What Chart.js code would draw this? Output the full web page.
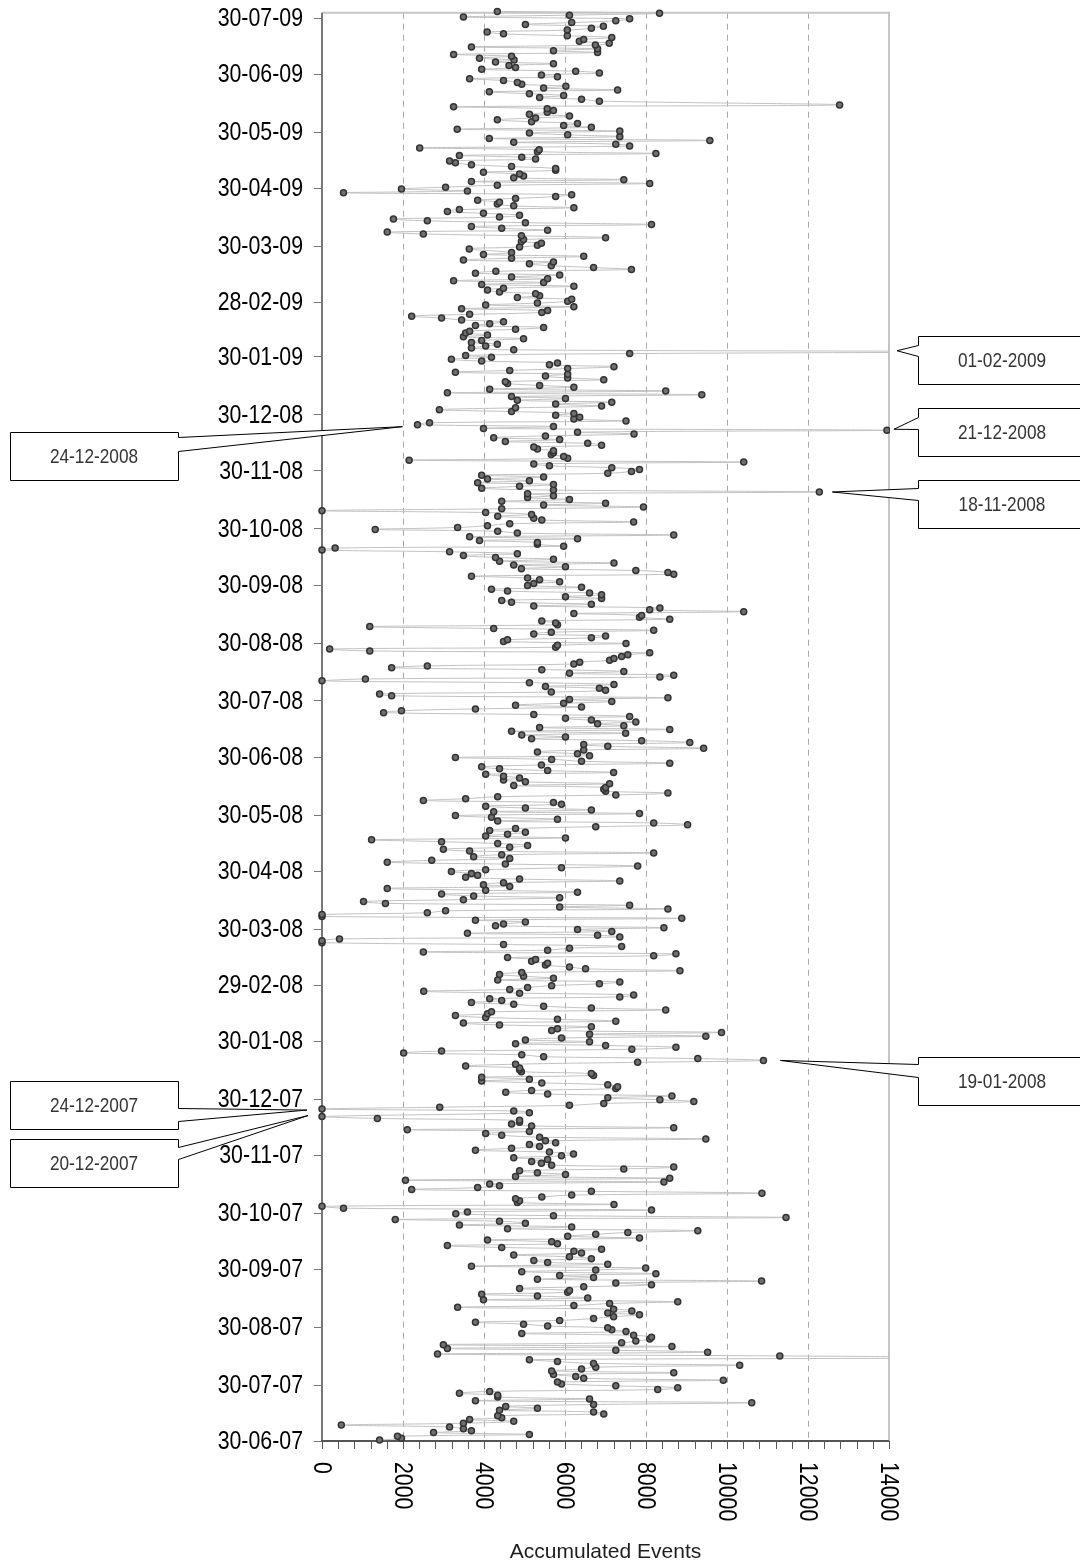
<!DOCTYPE html>
<html>
<head>
<meta charset="utf-8">
<title>Accumulated Events</title>
<script src="https://cdn.jsdelivr.net/npm/chart.js@4.4.1/dist/chart.umd.min.js"></script>
<style>
  html, body { margin: 0; padding: 0; background: #ffffff; }
  #wrap { width: 1080px; height: 1566px; position: relative; }
</style>
</head>
<body>
<div id="wrap"><canvas id="chart" width="1080" height="1566"></canvas></div>
<script>
// ---- data -------------------------------------------------------------
// first day of the series; every entry below is one consecutive day
const startDate = '2007-06-30';

// monthly labels on the date axis
const dateTickLabels = [
  '30-06-07', '30-07-07', '30-08-07', '30-09-07', '30-10-07', '30-11-07',
  '30-12-07', '30-01-08', '29-02-08', '30-03-08', '30-04-08', '30-05-08',
  '30-06-08', '30-07-08', '30-08-08', '30-09-08', '30-10-08', '30-11-08',
  '30-12-08', '30-01-09', '28-02-09', '30-03-09', '30-04-09', '30-05-09',
  '30-06-09', '30-07-09'
];

// labels on the value axis, and the spacing of the small tick marks
const valueTickLabels = [0, 2000, 4000, 6000, 8000, 10000, 12000, 14000];
const minorTickStep = 400;

// accumulated events per day, oldest first (null = no reading that day)
const events = [
  // Jul 2007 - Oct 2007
  1422, 1962, 1863, 5121, 2754, 3690, 3492, 3150, 477, 3492,
  4734, 3645, 4437, 4338, 6957, 6705, 4383, 5319, 4536, 6705,
  10611, 3789, 6606, 4338, 4338, 3393, 4140, 8289, 8784, 7254,
  5913, 5814, 9909, 6462, 6264, 5715, 8685, 5670, 6408, 6759,
  10314, 6705, 5814, 5121, 16500, 11304, 2853, 9522, 7254, 3096,
  8640, 2997, 7398, 7749, 8091, 8136, 7695, 4932, 7506, 7155,
  7056, 5571, 4977, 3789, 5868, 6705, 7200, 7839, 7056, 7650,
  7200, 3348, 6219, 7101, 8784, 3987, 6561, 5319, 3942, 6066,
  6111, 4878, 6462, 8136, 7254, 10854, 5319, 6705, 5868, 8244,
  4932, 6759, 7992, 3690, 7056, 5571, 5229, 6651, 6111, 4734,
  6408, 6219, 6903, 4437, 3096, 5814, 5670, 4086, 7839, 6066,
  6759, 7551, 9279, 4581, 6165, 3393, 5022, 4383, 1809, 11457,
  5715, 3303, 3591,
  // Oct 2007 - Feb 2008
  8136, 531, 0, 7209, 4824, 4878, 4779, 5427, 6165, 10863,
  6651, 2214, 3843, 4383, 4140, 8442, 2061, 8586, 4779, 6012,
  5319, 4878, 7452, 8685, 5670, 5418, 5175, 5571, 4734, 5913,
  6210, 5616, 3789, 4680, 5373, 5121, 5769, 5517, 9477, 5373,
  4437, 4041, 5121, 2106, 8685, 5175, 4680, 4878, 4878, 1368,
  0, null, 5121, 4734, 0, 2907, 6111, 6957, 9180, 8343,
  7056, 8640, 5571, 4536, 5175, 7254, 7299, 7056, 5427, 3942,
  5121, 3942, 6705, 6651, 4923, 4878, 4878, 3546, 4779, 7794,
  10900, 9279, 5472, 4932, 2016, 2952, 7650, 8739, 7002, 4779,
  6606, 5022, 5913, 9477, 6606, 9864, 5670, 5814, 6651, 4383,
  3492, 7254, 5814, 4041, 3294, 4086, 4185, 8487, 6651, 5472,
  4734, 3690, 4437, 4140, 7353, 7695, 4878, 2511, 4635, 5076,
  5670, 6849, 7353, 4338, 5715, 4977, 4383, 4932,
  // Mar 2008 - Jul 2008
  8838, 6507, 6111, 5517, 5571, 5175, 5274, 4581, 8190, 8739,
  2502, 5571, 6111, 7398, 4482, 0, 0, 432, 7353, 6804,
  3591, 7155, 6309, 8442, 4284, 4482, 5022, 3789, 8883, 0,
  0, 2601, 3051, 8541, 5868, 7596, 1566, 1026, 3492, 5868,
  3744, 2952, 6309, 4041, 1611, 4635, 3987, 4482, 7353, 4878,
  3546, 3843, 3690, 3195, 4041, 5913, 7794, 4527, 1611, 2709,
  4635, 3744, 4437, 8190, 3645, 2997, 4635, 5076, 4338, 2952,
  1224, 6012, 4041, 4581, 5022, 4140, 4779, 6759, 9027, 8190,
  4338, 5814, 4185, 3294, 7839, 4239, 6651, 5022, 4041, 5913,
  5715, 2502, 3546, 4338, 7254, 8541, 7002, 6957, 7002, 4734,
  7101, 5022, 4482, 4878, 4482, 4041, 7200, 5571, 4383, 3942,
  5418, 8586, 6408, 5670, 3294, 6606, 6309, 5319, 6462, 9423,
  7056, 6462, 9081, 7893, 5175, 6012, 4932, 7497, 4680,
  // Jul 2008 - Nov 2008
  8586, 5373, 7452, 6804, 7749, 6651, 6012, 7596, 5229, 1521,
  1962, 3789, 6408, 4779, 5967, 7155, 6111, 8541, 1719, 1422,
  5661, 7002, 6849, 5517, 7209, 5121, 0, 1071, 8343, 8685,
  6111, 7452, 5427, 1719, 2601, 6219, 6363, 7101, 7209, 7398,
  7551, 8091, 1179, 189, 5769, 5814, 7506, 4482, 4581, 6651,
  7002, 5229, 5661, 8190, 4239, 1179, 5814, 5769, 5427, 8586,
  7839, 7893, 6219, 10413, 8091, 8343, 5229, 6651, 4680, 4437,
  6903, 6012, 6903, 6606, 4581, 4185, 6408, 5076, 5229, 5868,
  5373, 5076, 3690, 8685, 8541, 7749, 4923, 6012, 4734, 7209,
  4383, 5715, 4284, 3492, 4824, 3150, 0, 324, 5967, 5319,
  5319, 3888, 6309, 3645, 8685, 4824, 4338, 1314, 3348, 4086,
  4635, 7695, 5427, 5229, 4338, 5175, 4041, 0, 4437, 7938,
  5472, 7002, 4437, 6111, 5076, 5715, 5076, 12280,
  // Nov 2008 - Mar 2009
  5715,
  3942, 4878, 5715, 3843, 5121, 4086, 5472, 3942, 7056, 7641,
  7839, 7155, 5616, 5229, 10413, 2151, 6066, 5967, 5661, 5715,
  5715, 5319, 5229, 6903, 6561, 4527, 5868, 4239, 5517, 7704,
  6309, 13950, 3987, 5715, 2358, 2655, 7506, 6219, 6363, 5769,
  6219, 4680, 2898, 4779, 6903, 5769, 7155, 4824, 6012, 4680,
  9378, 3096, 8487, 4140, 6219, 5373, 4581, 4527, 6957, 6066,
  5517, 6066, 3294, 4635, 6066, 7209, 5616, 5814, 3942, 3195,
  4185, 3546, 7596, 16500, 4734, 3690, 4041, 4329, 3690, 3942,
  4977, 3492, 4086, 3546, 3645, 4779, 5472, 3789, 4140, 4482,
  3447, 2952, 2214, 3645, 5427, 5571, 3447, 6219, 4041, 5319,
  6066, 6165, 4824, 5373, 5274, 4383, 4086, 4482, 6219, 3942,
  5472, 3249, 5571, 4680, 5868, 3789, 4293, 7641, 6705, 5661,
  5121, 5715, 3492, 4680, 6462, 3987, 4680, null,
  // Apr 2009 - Aug 2009
  3636, 4878, 5319, 5418, 4923, 4977, 7002, 4923, 2502, 1611,
  5571, 4437, 3690, 8136, 5022, 2601, 1764, 4383, 4878, 3987,
  3096, 3393, 6219, 4734, 4329, 4383, 3843, 4779, 5769, 6165,
  531, 3591, 1962, 3051, 4329, 8091, 3690, 7452, 4734, 4977,
  4878, 3987, 5769, 5769, 4680, 3690, 3294, 3150, 5274, 4932,
  3393, 8244, 5319, 5364, 2412, 7596, 7254, 4734, 9576, 4131,
  7353, 6066, 5121, 7353, 3339, 6651, 5967, 6309, 5175, 4329,
  5274, 6111, 5121, 5562, 5715, 5562, 3249, 12780, null, 6849,
  6408, 5373, 5967, 5121, 4131, 7299, 5472, 6021, 4932, 4824,
  4482, 3645, 5814, 5418, 6849, 6264, 3942, 4779, 4617, 5715,
  4284, 4743, 3888, 4680, 3249, 6804, 5715, 6804, 3690, 6750,
  7092, 6354, 6462, 7155, 6057, 4482, 4077, 6057, 6651, 6948,
  5022, 6165, 7254, 7596, 3492, 6111, 8334, 4329
];

// dated notes and where their boxes sit on the page
const callouts = [
  { text: '01-02-2009', side: 'right', box: [918, 336, 168, 48], wedge: [9, 20], dx: 8, dy: -1 },
  { text: '21-12-2008', side: 'right', box: [918, 408, 168, 48], wedge: [9, 21], dx: 7, dy: -1 },
  { text: '18-11-2008', side: 'right', box: [918, 480, 168, 48], wedge: [8, 20], dx: 13, dy: 0 },
  { text: '19-01-2008', side: 'right', box: [918, 1057, 168, 48], wedge: [7, 20], dx: 17, dy: 0 },
  { text: '24-12-2008', side: 'left', box: [10, 432, 168, 48], wedge: [5, 19], dx: -15, dy: 2 },
  { text: '24-12-2007', side: 'left', box: [10, 1081, 168, 48], wedge: [27, 40], dx: -15, dy: 1 },
  { text: '20-12-2007', side: 'left', box: [10, 1139, 168, 48], wedge: [8, 20], dx: -14, dy: -1 }
];

const xTitle = 'Accumulated Events';

// ---- helpers ----------------------------------------------------------
const DAY_MS = 86400000;
const startMs = Date.parse(startDate + 'T00:00:00Z');

// 'dd-mm-yy' or 'dd-mm-yyyy' -> days since the start date
function dayIndex(label) {
  const [d, m, y] = label.split('-').map(Number);
  const year = y < 100 ? 2000 + y : y;
  return Math.round((Date.UTC(year, m - 1, d) - startMs) / DAY_MS);
}

// condensed face for the axis labels; falls back to a squeezed regular face
const narrow = (() => {
  const c = document.createElement('canvas').getContext('2d');
  const probe = '30-07-09 0123456789';
  c.font = '40px "Liberation Sans"';
  const regular = c.measureText(probe).width;
  c.font = '40px "Liberation Sans Narrow", "Liberation Sans"';
  const cond = c.measureText(probe).width;
  return cond < regular * 0.95
    ? { family: '"Liberation Sans Narrow"', sx: 1 }
    : { family: '"Liberation Sans", Arial, sans-serif', sx: 0.82 };
})();

function drawLabel(ctx, text, x, y, opt) {
  ctx.save();
  ctx.translate(x, y);
  if (opt.rotate) ctx.rotate(opt.rotate);
  ctx.scale(opt.sx || 1, 1);
  ctx.font = opt.font;
  ctx.fillStyle = opt.color || '#000';
  ctx.textAlign = opt.align || 'left';
  ctx.textBaseline = opt.baseline || 'middle';
  ctx.fillText(text, 0, 0);
  ctx.restore();
}

// each day sits in the middle of its slot, month ticks on slot edges
const points = [];
events.forEach((v, i) => { if (v !== null) points.push({ x: v, y: i }); });

// ---- axes, frame and labels -------------------------------------------
const frame = {
  id: 'frame',
  beforeDatasetsDraw(chart) {
    const { ctx, chartArea: a, scales: { x, y } } = chart;
    ctx.save();

    // dashed vertical grid
    ctx.strokeStyle = '#a9a9a9';
    ctx.lineWidth = 1;
    ctx.setLineDash([6, 5]);
    valueTickLabels.forEach(v => {
      if (v <= x.min || v >= x.max) return;
      const px = Math.round(x.getPixelForValue(v)) + 0.5;
      ctx.beginPath();
      ctx.moveTo(px, a.top);
      ctx.lineTo(px, a.bottom);
      ctx.stroke();
    });
    ctx.setLineDash([]);

    // light frame on top and right
    ctx.strokeStyle = '#c6c6c6';
    ctx.lineWidth = 2;
    ctx.beginPath();
    ctx.moveTo(a.left, a.top);
    ctx.lineTo(a.right, a.top);
    ctx.lineTo(a.right, a.bottom);
    ctx.stroke();

    // date axis with monthly ticks
    ctx.strokeStyle = '#777777';
    ctx.lineWidth = 2;
    ctx.beginPath();
    ctx.moveTo(a.left, a.top);
    ctx.lineTo(a.left, a.bottom);
    ctx.stroke();
    ctx.lineWidth = 1;
    dateTickLabels.forEach(lbl => {
      const py = Math.round(y.getPixelForValue(dayIndex(lbl) - 0.5)) + 0.5;
      ctx.beginPath();
      ctx.moveTo(a.left - 8, py);
      ctx.lineTo(a.left, py);
      ctx.stroke();
    });

    // value axis with small ticks
    ctx.strokeStyle = '#555555';
    ctx.lineWidth = 2;
    ctx.beginPath();
    ctx.moveTo(a.left - 1, a.bottom);
    ctx.lineTo(a.right, a.bottom);
    ctx.stroke();
    ctx.lineWidth = 1;
    for (let v = x.min; v <= x.max; v += minorTickStep) {
      const px = Math.round(x.getPixelForValue(v)) + 0.5;
      ctx.beginPath();
      ctx.moveTo(px, a.bottom);
      ctx.lineTo(px, a.bottom + 8);
      ctx.stroke();
    }
    ctx.restore();
  },
  afterDraw(chart) {
    const { ctx, chartArea: a, scales: { x, y } } = chart;

    // date labels
    dateTickLabels.forEach(lbl => {
      const py = y.getPixelForValue(dayIndex(lbl) - 0.5);
      drawLabel(ctx, lbl, a.left - 19, py + 1, {
        font: '26px ' + narrow.family, sx: narrow.sx, align: 'right', color: '#000'
      });
    });

    // value labels, turned a quarter clockwise
    valueTickLabels.forEach(v => {
      const px = x.getPixelForValue(v);
      drawLabel(ctx, String(v), px - 1, a.bottom + 21, {
        font: '26px ' + narrow.family, sx: narrow.sx, rotate: Math.PI / 2,
        align: 'left', color: '#000'
      });
    });

    // axis title
    drawLabel(ctx, xTitle, (a.left + a.right) / 2, a.bottom + 117, {
      font: '21px "Liberation Sans", Arial, sans-serif', align: 'center',
      baseline: 'alphabetic', color: '#1e1e1e'
    });

    // dated notes
    callouts.forEach(c => {
      const d = dayIndex(c.text);
      const v = events[d];
      let tx = x.getPixelForValue(v);
      tx = Math.min(Math.max(tx, a.left), a.right) + c.dx;
      const ty = y.getPixelForValue(d) + c.dy;
      const [bx, by, bw, bh] = c.box;
      const L = bx + 0.5, T = by + 0.5, R = bx + bw + 0.5, B = by + bh + 0.5;
      ctx.save();
      ctx.beginPath();
      if (c.side === 'right') {
        ctx.moveTo(L, T);
        ctx.lineTo(R, T);
        ctx.lineTo(R, B);
        ctx.lineTo(L, B);
        ctx.lineTo(L, T + c.wedge[1]);
        ctx.lineTo(tx, ty);
        ctx.lineTo(L, T + c.wedge[0]);
      } else {
        ctx.moveTo(L, T);
        ctx.lineTo(R, T);
        ctx.lineTo(R, T + c.wedge[0]);
        ctx.lineTo(tx, ty);
        ctx.lineTo(R, T + c.wedge[1]);
        ctx.lineTo(R, B);
        ctx.lineTo(L, B);
      }
      ctx.closePath();
      ctx.fillStyle = '#ffffff';
      ctx.fill();
      ctx.strokeStyle = '#000000';
      ctx.lineWidth = 1;
      ctx.stroke();
      ctx.restore();
      drawLabel(ctx, c.text, bx + bw / 2, by + bh / 2 + 1, {
        font: '21px ' + narrow.family, sx: narrow.sx, align: 'center', color: '#333333'
      });
    });
  }
};

// ---- chart ------------------------------------------------------------
new Chart(document.getElementById('chart'), {
  type: 'scatter',
  data: {
    datasets: [{
      label: xTitle,
      data: points,
      showLine: true,
      tension: 0.4,
      borderColor: '#c2c2c2',
      borderWidth: 1,
      pointRadius: 3,
      pointHoverRadius: 3,
      pointBorderWidth: 1.5,
      pointBackgroundColor: '#707070',
      pointBorderColor: '#333333',
      clip: { left: 6, top: 6, right: 1, bottom: 6 }
    }]
  },
  options: {
    responsive: false,
    animation: false,
    devicePixelRatio: 1,
    events: [],
    layout: { padding: { left: 322, right: 191, top: 12.7, bottom: 125 } },
    plugins: {
      legend: { display: false },
      tooltip: { enabled: false },
      title: { display: false }
    },
    scales: {
      x: { type: 'linear', min: 0, max: 14000, display: false },
      y: { type: 'linear', min: -0.5, max: 763.3, display: false }
    }
  },
  plugins: [frame]
});
</script>
</body>
</html>
